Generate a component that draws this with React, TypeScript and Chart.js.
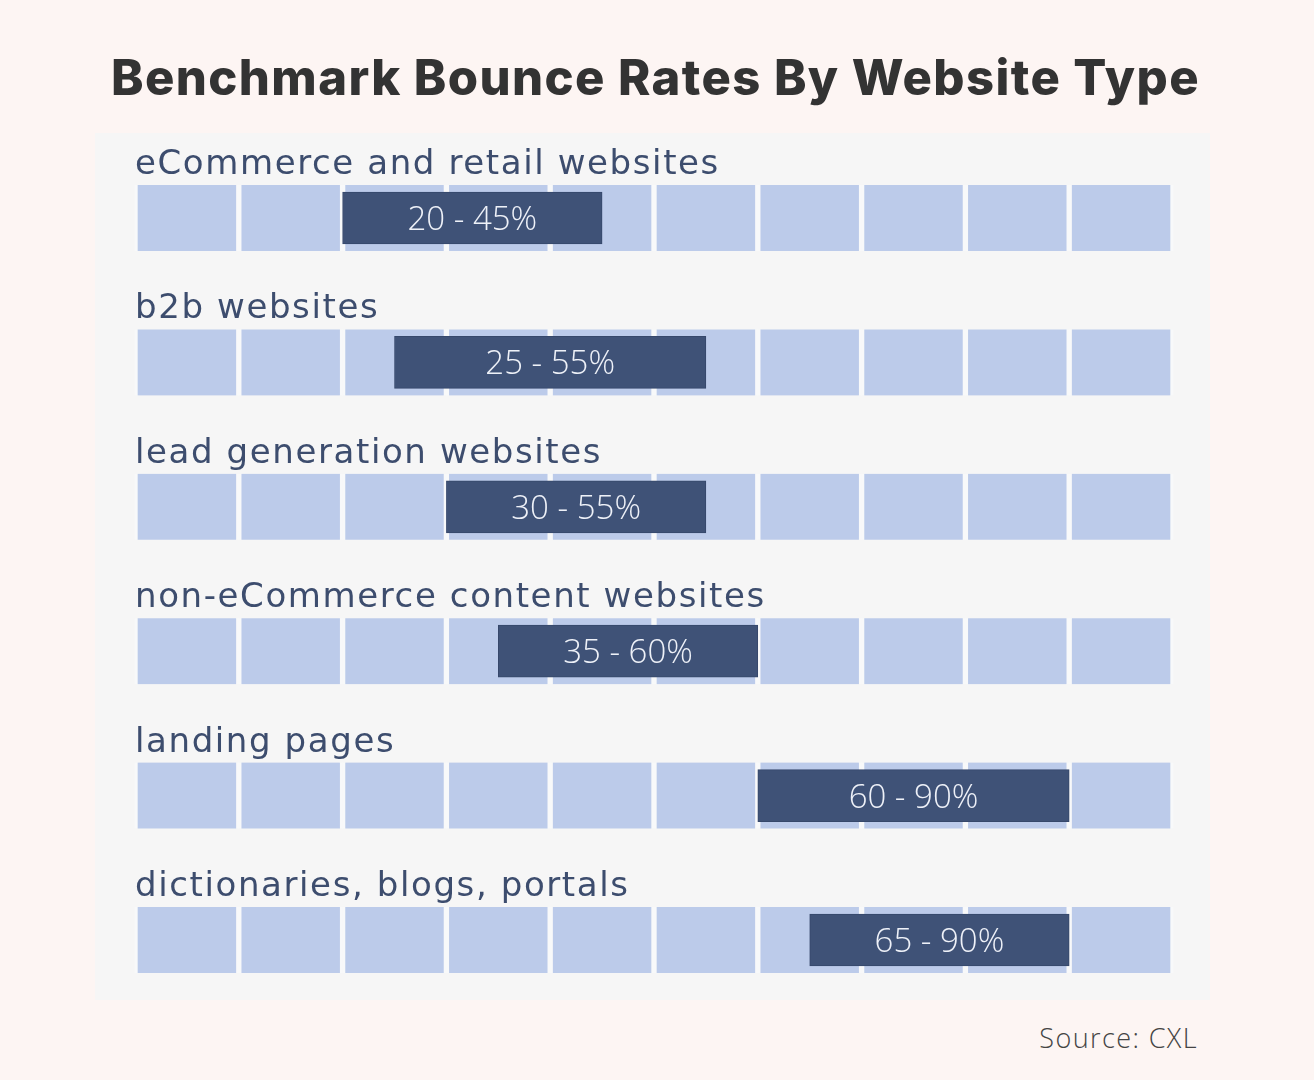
import { useEffect, useRef } from "react";
import { Chart, registerables } from "chart.js";

Chart.register(...registerables);

const categories = [
  "eCommerce and retail websites",
  "b2b websites",
  "lead generation websites",
  "non-eCommerce content websites",
  "landing pages",
  "dictionaries, blogs, portals",
];
const rangeLow = [20, 25, 30, 35, 60, 65];
const rangeHigh = [45, 55, 55, 60, 90, 90];
const cellTicks = [0, 10, 20, 30, 40, 50, 60, 70, 80, 90, 100];

// draws the row names above the tracks and the range text inside the bars
const labelsPlugin = {
  id: "rowLabels",
  afterDatasetsDraw(chart: any) {
    const { ctx, scales } = chart;
    const x = scales.x;
    const y = scales.y;
    ctx.save();
    categories.forEach((name, i) => {
      const cy = y.getPixelForValue(i);
      ctx.fillStyle = "#3d4d6e";
      ctx.font = "34px 'DejaVu Sans'";
      ctx.letterSpacing = "1.6px";
      ctx.textAlign = "left";
      ctx.textBaseline = "alphabetic";
      ctx.fillText(name, x.left, cy - 44);

      const x0 = x.getPixelForValue(rangeLow[i]);
      const x1 = x.getPixelForValue(rangeHigh[i]);
      ctx.fillStyle = "#eef1f8";
      ctx.font = "300 33px 'Open Sans'";
      ctx.letterSpacing = "0px";
      ctx.textAlign = "center";
      ctx.fillText(`${rangeLow[i]} - ${rangeHigh[i]}%`, (x0 + x1) / 2, cy + 12);
    });
    ctx.restore();
  },
};

export default function App() {
  const chartRef = useRef<HTMLCanvasElement>(null);
  const chartInstance = useRef<Chart | null>(null);

  useEffect(() => {
    document.body.style.margin = "0";
    if (chartRef.current) {
      const ctx = chartRef.current.getContext("2d");
      if (ctx) {
        if (chartInstance.current) {
          chartInstance.current.destroy();
        }

        const cellSets = cellTicks.slice(0, -1).map((t, i) => ({
          label: "cell " + i,
          data: categories.map(() => [t, cellTicks[i + 1]]),
          backgroundColor: "#bccbea",
          borderColor: "#f8f9fa",
          borderWidth: { left: 3, right: 3, top: 0, bottom: 0 },
          borderSkipped: false,
          barThickness: 66,
          grouped: false,
          order: 1,
          clip: false,
        }));

        chartInstance.current = new Chart(ctx, {
          type: "bar",
          data: {
            labels: categories,
            datasets: [
              {
                label: "range",
                data: categories.map((_, i) => [rangeLow[i], rangeHigh[i]]),
                backgroundColor: "#3f5277",
                borderColor: "#36486b",
                borderWidth: 1,
                borderSkipped: false,
                barThickness: 52,
                grouped: false,
                order: 0,
                clip: false,
              } as any,
              ...(cellSets as any[]),
            ],
          },
          options: {
            indexAxis: "y",
            responsive: false,
            animation: false,
            layout: { padding: { left: 40, right: 37, top: 85, bottom: 60 } },
            scales: {
              x: { type: "linear", min: 0, max: 100, display: false },
              y: { type: "category", offset: false, display: false },
            },
            plugins: {
              legend: { display: false },
              tooltip: { enabled: false },
            },
          },
          plugins: [labelsPlugin],
        });
      }
    }

    return () => {
      if (chartInstance.current) {
        chartInstance.current.destroy();
        chartInstance.current = null;
      }
    };
  }, []);

  return (
    <div
      style={{
        position: "relative",
        width: 1314,
        height: 1080,
        background: "#fdf5f3",
        overflow: "hidden",
      }}
    >
      <div
        style={{
          position: "absolute",
          left: 0,
          top: 45,
          width: 1314,
          textAlign: "center",
          fontFamily: "Inter, sans-serif",
          fontWeight: 800,
          fontSize: 49,
          lineHeight: "66px",
          color: "#333333",
          letterSpacing: 1.4,
          paddingRight: 3,
          boxSizing: "border-box",
        }}
      >
        Benchmark Bounce Rates By Website Type
      </div>
      <div
        style={{
          position: "absolute",
          left: 95,
          top: 133,
          width: 1115,
          height: 867,
          background: "#f6f6f6",
        }}
      >
        <canvas ref={chartRef} width={1115} height={867}></canvas>
      </div>
      <div
        style={{
          position: "absolute",
          right: 116,
          top: 1019,
          fontFamily: "'Open Sans', sans-serif",
          fontWeight: 300,
          fontSize: 27,
          lineHeight: "38px",
          color: "#444444",
          letterSpacing: 1.4,
        }}
      >
        Source: CXL
      </div>
    </div>
  );
}
